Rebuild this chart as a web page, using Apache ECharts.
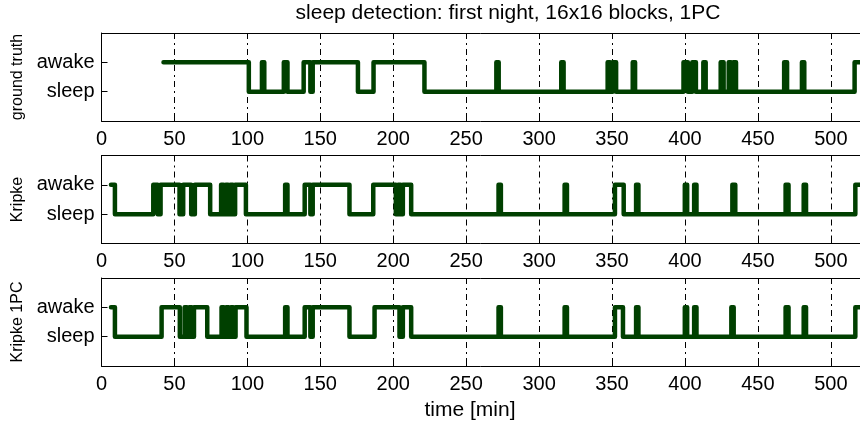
<!DOCTYPE html>
<html><head><meta charset="utf-8">
<script src="https://cdn.jsdelivr.net/npm/echarts@6/dist/echarts.min.js"></script>
<style>html,body{margin:0;padding:0;background:#fff}#c{width:860px;height:422px}</style>
</head><body><div id="c"></div>
<script>
const stateLabels = ['sleep', 'awake'];
const panelNames = ['ground truth', 'Kripke', 'Kripke 1PC'];
const titleText = 'sleep detection: first night, 16x16 blocks, 1PC';
const xLabelText = 'time [min]';
const xMin = 0, xMax = 520, xStep = 50;

const gtTimes  = [42.5, 101, 110, 111.6, 125, 127.5, 138.6, 143.2, 144.8, 175.8, 186.5, 221.4, 270.7, 272.3, 315.2, 316.8, 347, 348.7, 350.4, 352.8, 364.2, 365.8, 399, 402, 405, 407.5, 412.6, 414.2, 424.5, 426.5, 430, 431.6, 433.2, 435, 468, 470, 480.2, 481.8, 516.3, 520];
const gtStates = [1, 0, 1, 0, 1, 0, 1, 0, 1, 0, 1, 0, 1, 0, 1, 0, 1, 0, 1, 0, 1, 0, 1, 0, 1, 0, 1, 0, 1, 0, 1, 0, 1, 0, 1, 0, 1, 0, 1, 1];

const krTimes  = [6.5, 9.2, 35.5, 38.5, 40.5, 53.5, 56, 61.5, 64, 74.5, 82, 83.6, 85.2, 86.8, 88.4, 90, 91.6, 99, 125.9, 127.5, 139.3, 143.2, 144.8, 170, 186.3, 201.8, 203.4, 205, 206.6, 212.3, 272.2, 273.8, 317.5, 319.1, 352, 358, 366.5, 368.1, 399.9, 401.5, 406.3, 407.9, 432.5, 434.5, 469, 471, 481.4, 483, 516.8, 520];
const krStates = [1, 0, 1, 0, 1, 0, 1, 0, 1, 0, 1, 0, 1, 0, 1, 0, 1, 0, 1, 0, 1, 0, 1, 0, 1, 0, 1, 0, 1, 0, 1, 0, 1, 0, 1, 0, 1, 0, 1, 0, 1, 0, 1, 0, 1, 0, 1, 0, 1, 1];

const pcTimes  = [6.5, 9.2, 41.2, 53.7, 57, 58.6, 60.2, 61.8, 63.4, 72.5, 82.3, 83.9, 85.5, 87.1, 88.7, 90.3, 91.9, 99.4, 125.9, 127.5, 139.3, 143.2, 144.8, 170, 187.2, 204.3, 206.6, 212.3, 272.2, 273.8, 317.5, 319.1, 352, 357.5, 366.5, 368.1, 399.9, 401.5, 406.3, 407.9, 431.8, 433.4, 469, 471, 481.4, 483, 516.8, 520];
const pcStates = [1, 0, 1, 0, 1, 0, 1, 0, 1, 0, 1, 0, 1, 0, 1, 0, 1, 0, 1, 0, 1, 0, 1, 0, 1, 0, 1, 0, 1, 0, 1, 0, 1, 0, 1, 0, 1, 0, 1, 0, 1, 0, 1, 0, 1, 0, 1, 1];

const seriesTimes = [gtTimes, krTimes, pcTimes];
const seriesStates = [gtStates, krStates, pcStates];

const FONT = 'Liberation Sans, Arial, Helvetica, sans-serif';
const lineColor = '#004000';
const tops = [33, 155.5, 278];
const panelH = 88, left = 101.5, width = 762;

const grids = [], xAxes = [], yAxes = [], series = [];
tops.forEach((top, i) => {
  grids.push({ left: left, top: top, width: width, height: panelH, containLabel: false });
  xAxes.push({
    type: 'value', gridIndex: i, position: 'bottom', min: xMin, max: xMax, interval: xStep,
    axisLine: { show: true, onZero: false, lineStyle: { color: '#000', width: 1 } },
    axisTick: { show: true, inside: true, length: 5, lineStyle: { color: '#000' } },
    axisLabel: { show: true, fontSize: 20, color: '#000', margin: 8, fontFamily: FONT, showMaxLabel: false },
    splitLine: { show: true, lineStyle: { type: [6, 4, 2, 4], color: '#000', width: 1 } }
  });
  xAxes.push({
    type: 'value', gridIndex: i, position: 'top', min: xMin, max: xMax, interval: xStep,
    axisLine: { show: true, onZero: false, lineStyle: { color: '#000', width: 1 } },
    axisTick: { show: true, inside: true, length: 5, lineStyle: { color: '#000' } },
    axisLabel: { show: false }, splitLine: { show: false }
  });
  yAxes.push({
    type: 'value', gridIndex: i, min: -1, max: 2, interval: 1,
    name: panelNames[i], nameLocation: 'middle', nameRotate: 90, nameGap: 76,
    nameTextStyle: { fontSize: 16, color: '#000', fontFamily: FONT },
    axisLine: { show: true, onZero: false, lineStyle: { color: '#000', width: 1 } },
    axisTick: { show: true, inside: true, length: 6, lineStyle: { color: '#000' }, customValues: [0, 1] },
    axisLabel: { fontSize: 20, color: '#000', margin: 7, fontFamily: FONT, customValues: [0, 1],
      formatter: v => (v === 0 || v === 1) ? stateLabels[v] : '' },
    splitLine: { show: false }
  });
  const times = seriesTimes[i], states = seriesStates[i];
  series.push({
    type: 'line', xAxisIndex: 2 * i, yAxisIndex: i, step: 'end',
    symbol: 'none', showSymbol: false, silent: true,
    lineStyle: { color: lineColor, width: 4.5, join: 'round', cap: 'round' },
    data: times.map((t, k) => [t, states[k]])
  });
});

const chart = echarts.init(document.getElementById('c'), null, { renderer: 'canvas' });
chart.setOption({
  animation: false,
  backgroundColor: '#fff',
  grid: grids, xAxis: xAxes, yAxis: yAxes, series: series,
  graphic: [
    { type: 'text', x: 508, y: 13, style: { text: titleText, fontSize: 21, fontFamily: FONT, fill: '#000', align: 'center', verticalAlign: 'middle' } },
    { type: 'text', x: 470, y: 410, style: { text: xLabelText, fontSize: 21, fontFamily: FONT, fill: '#000', align: 'center', verticalAlign: 'middle' } }
  ]
});
</script></body></html>
